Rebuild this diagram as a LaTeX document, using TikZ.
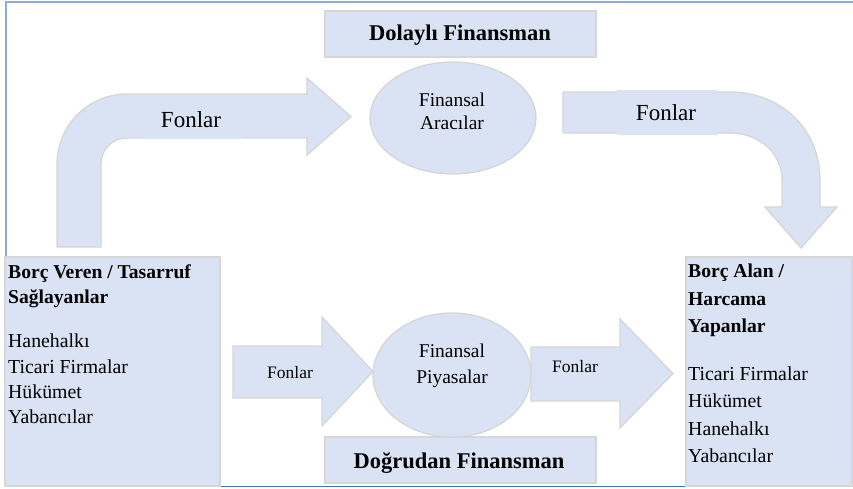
\documentclass[tikz,border=0pt]{standalone}
\usepackage{fontspec}
\setmainfont{Liberation Serif}
\definecolor{boxfill}{HTML}{DAE3F3}
\definecolor{boxline}{HTML}{D6D6D6}
\definecolor{frameA}{HTML}{8EAADB}
\definecolor{frameB}{HTML}{4472C4}
\begin{document}
\begin{tikzpicture}[x=1pt,y=-1pt,
  shapebox/.style={fill=boxfill,draw=boxline,line width=1.3pt},
  linetxt/.style={anchor=base west,inner sep=0pt,font=\fontsize{19.8}{24}\selectfont},
  headtxt/.style={anchor=base west,inner sep=0pt,font=\fontsize{19.6}{24}\selectfont\bfseries},
  midtxt/.style={anchor=base,inner sep=0pt,font=\fontsize{19.5}{23}\selectfont},
  fontxt/.style={anchor=base,inner sep=0pt,font=\fontsize{23}{26}\selectfont},
  smalltxt/.style={anchor=base,inner sep=0pt,font=\fontsize{17.5}{20}\selectfont},
  titletxt/.style={anchor=base,inner sep=0pt,font=\fontsize{22.5}{26}\selectfont\bfseries}]
\useasboundingbox (0,0) rectangle (853,489);
% frame
\draw[frameA,line width=1.6pt] (6,257) coordinate (fl) -- (6,2) -- (853,2) coordinate (fr);
\draw[frameB,line width=1.4pt] (220,486.5) coordinate (fb1) -- (686,486.5) coordinate (fb2);
% side boxes
\draw[shapebox] (5,257) rectangle (220,486) coordinate (lbox);
\draw[shapebox] (686,257) rectangle (852,486) coordinate (rbox);
% title boxes
\draw[shapebox] (325,11) rectangle (596,57);
\draw[shapebox] (325,437) rectangle (596,483);
\node[titletxt] (dol) at (460,41) {Dolaylı Finansman};
\node[titletxt] (dog) at (459,468) {Doğrudan Finansman};
% ellipses
\draw[shapebox] (453,118) ellipse [x radius=83,y radius=56];
\node[inner sep=0pt] (ea) at (453,118) {};
\draw[shapebox] (452,375) ellipse [x radius=79,y radius=62];
\node[inner sep=0pt] (ep) at (452,375) {};
\node[midtxt] (ea1) at (452,107) {Finansal};
\node[midtxt] (ea2) at (452,130) {Aracılar};
\node[midtxt] (ep1) at (452,357) {Finansal};
\node[midtxt] (ep2) at (452,383) {Piyasalar};
% left bent arrow
\draw[shapebox] (57,247) -- (57,164) .. controls (57,125.4) and (88.4,94) .. (127,94)
  -- (307,94) -- (307,78) -- (351,116.5) -- (307,155) -- (307,138) -- (127,138)
  .. controls (112.6,138) and (101,149.6) .. (101,164) -- (101,247) -- cycle;
\fill[boxfill] (144,96) rectangle (243,139);
\node[fontxt] (f1) at (191,128) {Fonlar};
% right bent arrow
\draw[shapebox] (563,92) -- (730,92) .. controls (780,92) and (820,128) .. (820,180)
  -- (820,207) -- (837,207) -- (801,248) -- (765,207) -- (782,207) -- (782,180)
  .. controls (782,154) and (760,133) .. (730,133) -- (563,133) -- cycle;
\fill[boxfill] (617,90) rectangle (718,135);
\node[fontxt] (f2) at (666,121) {Fonlar};
% bottom arrows
\draw[shapebox] (233,346) -- (322,346) -- (322,317) -- (373,371.5) -- (322,426) -- (322,398) -- (233,398) -- cycle;
\node[smalltxt] (f3) at (290,378) {Fonlar};
\draw[shapebox] (531,347) -- (620,347) -- (620,319) -- (673,373.5) -- (620,428) -- (620,401) -- (531,401) -- cycle;
\node[smalltxt] (f4) at (575,372) {Fonlar};
% left box text
\node[headtxt] (l1) at (8,278) {Borç Veren / Tasarruf};
\node[headtxt] (l2) at (8,303) {Sağlayanlar};
\node[linetxt] (l3) at (8,347) {Hanehalkı};
\node[linetxt] (l4) at (8,373) {Ticari Firmalar};
\node[linetxt] (l5) at (8,398) {Hükümet};
\node[linetxt] (l6) at (8,423) {Yabancılar};
% right box text
\node[headtxt] (r1) at (688,277) {Borç Alan /};
\node[headtxt] (r2) at (688,305) {Harcama};
\node[headtxt] (r3) at (688,332) {Yapanlar};
\node[linetxt] (r4) at (688,380) {Ticari Firmalar};
\node[linetxt] (r5) at (688,407) {Hükümet};
\node[linetxt] (r6) at (688,435) {Hanehalkı};
\node[linetxt] (r7) at (688,462) {Yabancılar};
\end{tikzpicture}
\end{document}
